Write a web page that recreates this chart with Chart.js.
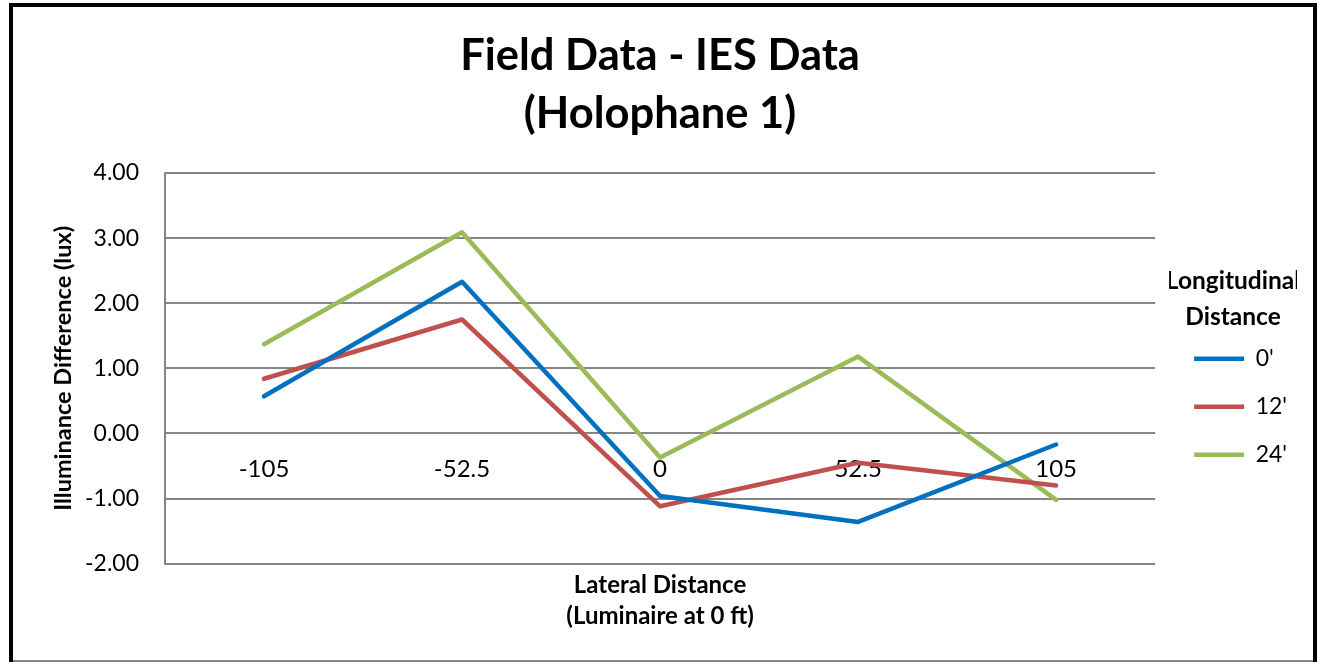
<!DOCTYPE html>
<html>
<head>
<meta charset="utf-8">
<script src="https://cdn.jsdelivr.net/npm/chart.js@4.4.0/dist/chart.umd.min.js"></script>
<style>
  html, body { margin: 0; padding: 0; background: #fff; }
  #frame { position: absolute; left: 9px; top: 3px; width: 1300px; height: 659px; border: 4px solid #000; border-bottom: none; }
  #wrap { position: absolute; left: 0; top: 0; width: 1300px; height: 653px; border-bottom: 2px solid #868686; }
</style>
</head>
<body>
<div id="frame">
  <div id="wrap"><canvas id="chart" width="1300" height="653"></canvas></div>
</div>
<script>
// lateral positions (ft)
const categories = ['-105', '-52.5', '0', '52.5', '105'];
const seriesNames = ["0'", "12'", "24'"];
// illuminance difference (lux) per longitudinal distance
const dist0 = [0.57, 2.33, -0.96, -1.36, -0.17];
const dist12 = [0.84, 1.75, -1.12, -0.45, -0.80];
const dist24 = [1.37, 3.09, -0.37, 1.18, -1.02];
const yMin = -2, yMax = 4, yStep = 1;

const colors = ['#0070C0', '#C0504D', '#9BBB59'];
const font = 'Lato';

const lineSet = (label, data, color) => ({
  label: label,
  data: data,
  borderColor: color,
  backgroundColor: color,
  borderWidth: 4.5,
  borderCapStyle: 'round',
  borderJoinStyle: 'round',
  pointRadius: 0,
  tension: 0
});

new Chart(document.getElementById('chart'), {
  type: 'line',
  data: {
    labels: categories,
    datasets: [
      lineSet(seriesNames[0], dist0, colors[0]),
      lineSet(seriesNames[1], dist12, colors[1]),
      lineSet(seriesNames[2], dist24, colors[2])
    ]
  },
  options: {
    responsive: false,
    animation: false,
    layout: { padding: { left: 18, right: 16, top: 0, bottom: 0 } },
    plugins: {
      title: {
        display: true,
        fullSize: false,
        text: ['Field Data - IES Data', '(Holophane 1)'],
        color: '#000',
        font: { family: font, size: 43.5, weight: 'bold', lineHeight: 1.334 },
        padding: { top: 20, bottom: 30 }
      },
      subtitle: {
        display: true,
        position: 'bottom',
        fullSize: false,
        text: ['Lateral Distance', '(Luminaire at 0 ft)'],
        color: '#000',
        font: { family: font, size: 24, weight: 'bold', lineHeight: 1.3 },
        padding: { top: 6, bottom: 28 }
      },
      legend: {
        position: 'right',
        fullSize: false,
        title: {
          display: true,
          text: ['Longitudinal', 'Distance'],
          color: '#000',
          font: { family: font, size: 24.5, weight: 'bold', lineHeight: 1.5 },
          padding: { top: 23, bottom: 17 }
        },
        labels: {
          usePointStyle: true,
          pointStyle: 'line',
          pointStyleWidth: 50,
          color: '#000',
          font: { family: font, size: 23 },
          padding: 25
        }
      },
      tooltip: { enabled: false }
    },
    scales: {
      x: {
        type: 'category',
        offset: true,
        position: { y: 0 },
        grid: { display: false, drawTicks: false },
        border: { display: false },
        ticks: { color: '#000', font: { family: font, size: 24 }, padding: 21, maxRotation: 0 }
      },
      y: {
        min: yMin,
        max: yMax,
        ticks: {
          stepSize: yStep,
          color: '#000',
          font: { family: font, size: 23 },
          padding: 26,
          callback: v => v.toFixed(2)
        },
        grid: { color: '#868686', lineWidth: 2, drawTicks: false },
        border: { color: '#868686', width: 2 },
        title: {
          display: true,
          text: 'Illuminance Difference (lux)',
          color: '#000',
          font: { family: font, size: 23.5, weight: 'bold' },
          padding: { top: 18, bottom: 8 }
        },
        afterFit: s => { s.width = 134; }
      },
      // empty right-hand axis, only keeps the gap between plot and legend
      gap: {
        type: 'linear',
        position: 'right',
        display: true,
        ticks: { display: false },
        grid: { display: false },
        border: { display: false },
        afterFit: s => { s.width = 14; }
      }
    }
  }
});
</script>
</body>
</html>
